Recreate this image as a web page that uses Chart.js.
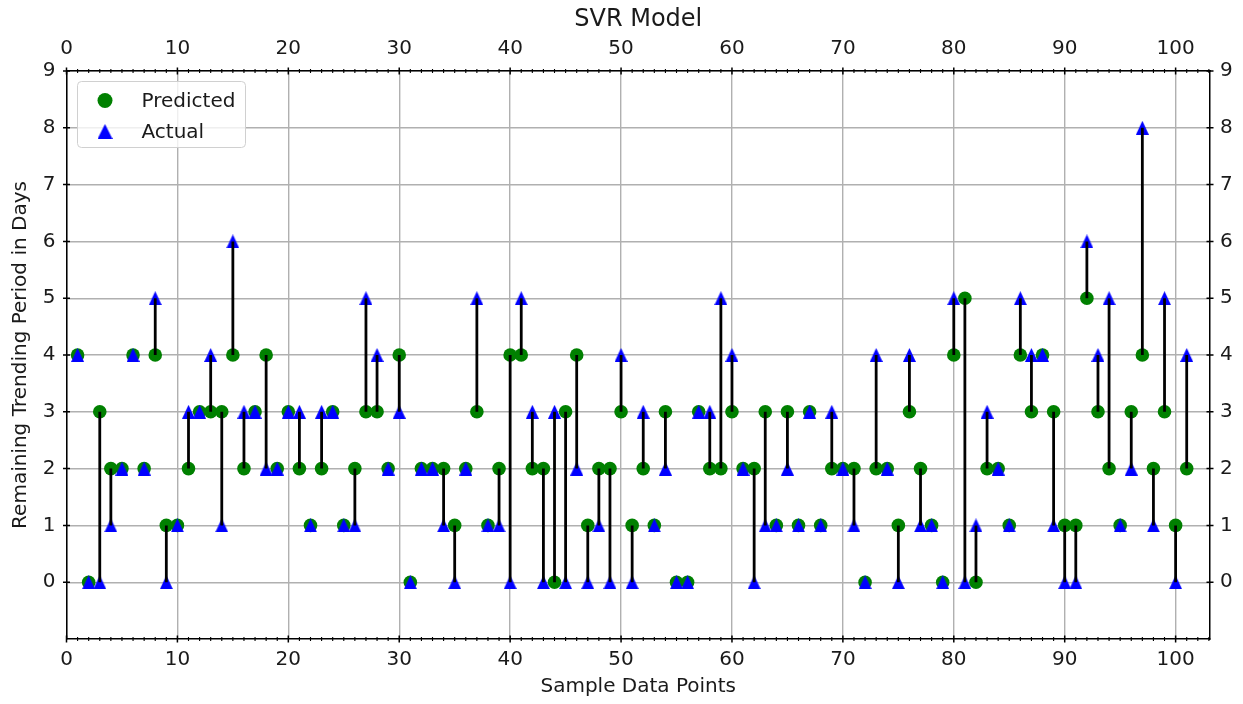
<!DOCTYPE html>
<html>
<head>
<meta charset="utf-8">
<title>SVR Model</title>
<script src="https://cdn.jsdelivr.net/npm/chart.js@4/dist/chart.umd.min.js"></script>
<style>
  html, body { margin: 0; padding: 0; background: #fff; }
  #wrap { width: 1243px; height: 704px; }
</style>
</head>
<body>
<div id="wrap"><canvas id="chart" width="1243" height="704"></canvas></div>
<script>
// remaining trending period (days) for each sample, model output vs. ground truth
const predicted = [
  4, 0, 3, 2, 2, 4, 2, 4, 1, 1,
  2, 3, 3, 3, 4, 2, 3, 4, 2, 3,
  2, 1, 2, 3, 1, 2, 3, 3, 2, 4,
  0, 2, 2, 2, 1, 2, 3, 1, 2, 4,
  4, 2, 2, 0, 3, 4, 1, 2, 2, 3,
  1, 2, 1, 3, 0, 0, 3, 2, 2, 3,
  2, 2, 3, 1, 3, 1, 3, 1, 2, 2,
  2, 0, 2, 2, 1, 3, 2, 1, 0, 4,
  5, 0, 2, 2, 1, 4, 3, 4, 3, 1,
  1, 5, 3, 2, 1, 3, 4, 2, 3, 1,
  2
];
const actual = [
  4, 0, 0, 1, 2, 4, 2, 5, 0, 1,
  3, 3, 4, 1, 6, 3, 3, 2, 2, 3,
  3, 1, 3, 3, 1, 1, 5, 4, 2, 3,
  0, 2, 2, 1, 0, 2, 5, 1, 1, 0,
  5, 3, 0, 3, 0, 2, 0, 1, 0, 4,
  0, 3, 1, 2, 0, 0, 3, 3, 5, 4,
  2, 0, 1, 1, 2, 1, 3, 1, 3, 2,
  1, 0, 4, 2, 0, 4, 1, 1, 0, 5,
  0, 1, 3, 2, 1, 5, 4, 4, 1, 0,
  0, 6, 4, 5, 1, 2, 8, 1, 5, 0,
  4
];
const xTickLabels = [0, 10, 20, 30, 40, 50, 60, 70, 80, 90, 100];
const yTickLabels = [0, 1, 2, 3, 4, 5, 6, 7, 8, 9];

const X_MIN = 0, X_MAX = 103.1;
const Y_MIN = -1, Y_MAX = 9;

const FONT = "'DejaVu Sans', sans-serif";
const TEXT = '#1a1a1a';
const GRID = '#b0b0b0';
const GREEN = '#008000';
const BLUE = '#0000ff';

// samples are numbered from 1
const sampleNo = predicted.map((_, i) => i + 1);

const predictedPts = sampleNo.map((n, i) => ({ x: n, y: predicted[i] }));
const actualPts = sampleNo.map((n, i) => ({ x: n, y: actual[i] }));

// vertical connector per sample, broken by null gaps
const connectorPts = [];
sampleNo.forEach((n, i) => {
  connectorPts.push({ x: n, y: predicted[i] });
  connectorPts.push({ x: n, y: actual[i] });
  connectorPts.push({ x: n, y: null });
});

// up-pointing triangle centred on its bounding box
function makeTriangle(w, h, color) {
  const c = document.createElement('canvas');
  c.width = w;
  c.height = h;
  const g = c.getContext('2d');
  g.fillStyle = color;
  g.beginPath();
  g.moveTo(w / 2, 0);
  g.lineTo(w, h);
  g.lineTo(0, h);
  g.closePath();
  g.fill();
  return c;
}
const triangle = makeTriangle(13, 14, BLUE);
const legendTriangle = makeTriangle(15, 15, BLUE);

// inout tick marks: long at labelled values, short minor ticks on x
const tickMarks = {
  id: 'tickMarks',
  afterDraw(chart) {
    const { ctx, chartArea } = chart;
    const xs = chart.scales.x, ys = chart.scales.y;
    ctx.save();
    ctx.strokeStyle = '#000';
    xs.ticks.forEach(t => {
      const major = xTickLabels.includes(t.value);
      const half = major ? 3.5 : 2;
      const px = xs.getPixelForValue(t.value);
      ctx.lineWidth = major ? 1.5 : 1.1;
      ctx.beginPath();
      ctx.moveTo(px, chartArea.bottom - half);
      ctx.lineTo(px, chartArea.bottom + half);
      ctx.moveTo(px, chartArea.top - half);
      ctx.lineTo(px, chartArea.top + half);
      ctx.stroke();
    });
    ys.ticks.forEach(t => {
      if (!yTickLabels.includes(t.value)) return;
      const py = ys.getPixelForValue(t.value);
      ctx.lineWidth = 1.5;
      ctx.beginPath();
      ctx.moveTo(chartArea.left - 3.5, py);
      ctx.lineTo(chartArea.left + 3.5, py);
      ctx.moveTo(chartArea.right - 3.5, py);
      ctx.lineTo(chartArea.right + 3.5, py);
      ctx.stroke();
    });
    ctx.restore();
  }
};

// legend box in the upper left corner of the plot
const legendBox = {
  id: 'legendBox',
  afterDraw(chart) {
    const ctx = chart.ctx;
    const left = chart.chartArea.left + 11;
    const top = chart.chartArea.top + 10.5;
    ctx.save();
    ctx.beginPath();
    ctx.roundRect(left, top, 168, 66, 4);
    ctx.fillStyle = 'rgba(255,255,255,0.8)';
    ctx.fill();
    ctx.strokeStyle = '#d0d0d0';
    ctx.lineWidth = 1;
    ctx.stroke();

    ctx.fillStyle = GREEN;
    ctx.beginPath();
    ctx.arc(left + 27.5, top + 19, 7.5, 0, Math.PI * 2);
    ctx.fill();
    ctx.drawImage(legendTriangle, left + 20, top + 42.5);

    ctx.fillStyle = TEXT;
    ctx.font = "20px 'DejaVu Sans'";
    ctx.textBaseline = 'alphabetic';
    ctx.fillText('Predicted', left + 64, top + 25.5);
    ctx.fillText('Actual', left + 64, top + 56);
    ctx.restore();
  }
};

new Chart(document.getElementById('chart'), {
  type: 'scatter',
  data: {
    datasets: [
      {
        type: 'line',
        label: 'gap',
        data: connectorPts,
        borderColor: '#000',
        borderWidth: 2.8,
        pointRadius: 0,
        pointHoverRadius: 0,
        spanGaps: false,
        order: 0
      },
      {
        label: 'Actual',
        data: actualPts,
        pointStyle: triangle,
        pointRadius: 7,
        backgroundColor: BLUE,
        borderWidth: 0,
        order: 1
      },
      {
        label: 'Predicted',
        data: predictedPts,
        pointStyle: 'circle',
        pointRadius: 6.8,
        backgroundColor: GREEN,
        borderWidth: 0,
        order: 2
      }
    ]
  },
  options: {
    responsive: false,
    animation: false,
    events: [],
    layout: { padding: 0 },
    plugins: {
      legend: { display: false },
      tooltip: { enabled: false }
    },
    scales: {
      x: {
        type: 'linear',
        position: 'bottom',
        min: X_MIN,
        max: X_MAX,
        afterFit: s => { s.height = 65; },
        border: { display: true, color: '#000', width: 1.5 },
        grid: {
          drawTicks: false,
          lineWidth: 1.4,
          color: c => (c.tick && xTickLabels.includes(c.tick.value)) ? GRID : 'rgba(0,0,0,0)'
        },
        ticks: {
          stepSize: 1,
          autoSkip: false,
          includeBounds: false,
          maxRotation: 0,
          minRotation: 0,
          padding: 9,
          color: TEXT,
          font: { family: FONT, size: 20 },
          callback: v => xTickLabels.includes(v) ? v : ''
        },
        title: {
          display: true,
          text: 'Sample Data Points',
          color: TEXT,
          font: { family: FONT, size: 20 },
          padding: { top: 0, bottom: 5 }
        }
      },
      x2: {
        type: 'linear',
        position: 'top',
        min: X_MIN,
        max: X_MAX,
        afterFit: s => { s.height = 71; },
        border: { display: true, color: '#000', width: 1.5 },
        grid: { drawOnChartArea: false, drawTicks: false },
        ticks: {
          stepSize: 10,
          includeBounds: false,
          maxRotation: 0,
          minRotation: 0,
          padding: 10,
          color: TEXT,
          font: { family: FONT, size: 20 },
          callback: v => xTickLabels.includes(v) ? v : ''
        },
        title: {
          display: true,
          text: 'SVR Model',
          color: TEXT,
          font: { family: FONT, size: 24 },
          padding: { top: 5, bottom: 0 }
        }
      },
      y: {
        type: 'linear',
        position: 'left',
        min: Y_MIN,
        max: Y_MAX,
        afterFit: s => { s.width = 66.5; },
        border: { display: true, color: '#000', width: 1.5 },
        grid: {
          drawTicks: false,
          lineWidth: 1.4,
          color: c => (c.tick && yTickLabels.includes(c.tick.value)) ? GRID : 'rgba(0,0,0,0)'
        },
        ticks: {
          stepSize: 1,
          autoSkip: false,
          padding: 11,
          color: TEXT,
          font: { family: FONT, size: 20 },
          callback: v => yTickLabels.includes(v) ? v : ''
        },
        title: {
          display: true,
          text: 'Remaining Trending Period in Days',
          color: TEXT,
          font: { family: FONT, size: 20 },
          padding: { top: 9, bottom: 0 }
        }
      },
      y2: {
        type: 'linear',
        position: 'right',
        min: Y_MIN,
        max: Y_MAX,
        afterFit: s => { s.width = 33; },
        border: { display: true, color: '#000', width: 1.5 },
        grid: { drawOnChartArea: false, drawTicks: false },
        ticks: {
          stepSize: 1,
          autoSkip: false,
          padding: 10,
          color: TEXT,
          font: { family: FONT, size: 20 },
          callback: v => yTickLabels.includes(v) ? v : ''
        }
      }
    }
  },
  plugins: [tickMarks, legendBox]
});
</script>
</body>
</html>
